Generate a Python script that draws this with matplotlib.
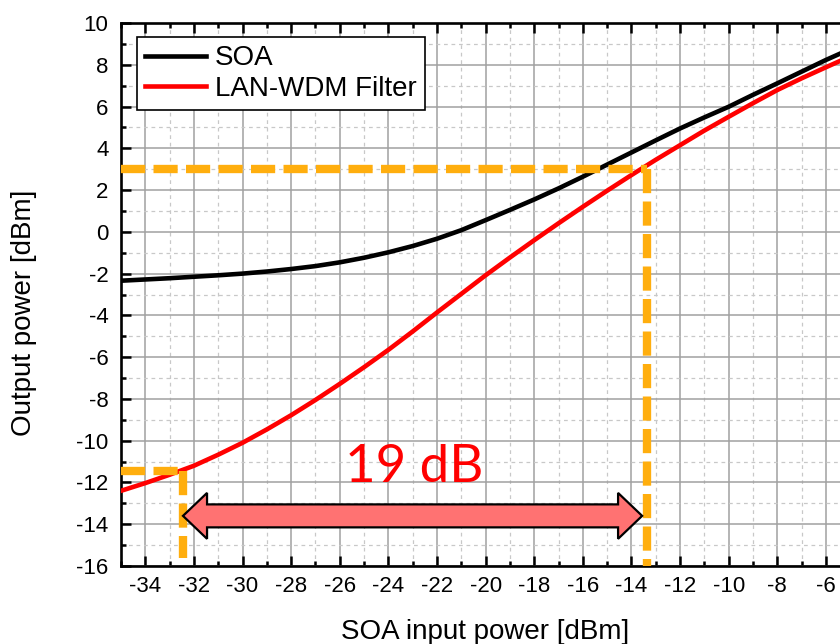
import matplotlib
matplotlib.use("Agg")
import matplotlib.pyplot as plt
from matplotlib.patches import Polygon
from matplotlib.ticker import MultipleLocator

plt.rcParams['font.family'] = ['Liberation Sans', 'DejaVu Sans']
plt.rcParams['axes.unicode_minus'] = False

# ---------------- data ----------------
input_power = [-35, -34, -33, -32, -31, -30, -29, -28, -27, -26, -25, -24, -23, -22, -21,
               -20, -19, -18, -17, -16, -15, -14, -13, -12, -11, -10, -9, -8, -7, -6, -5]
soa_out = [-2.34, -2.28, -2.22, -2.15, -2.08, -2.00, -1.90, -1.78, -1.64, -1.46, -1.24,
           -0.98, -0.68, -0.33, 0.08, 0.56, 1.05, 1.55, 2.08, 2.64, 3.22, 3.80, 4.38,
           4.95, 5.48, 5.99, 6.56, 7.11, 7.67, 8.23, 8.75]
filter_out = [-12.40, -12.03, -11.63, -11.20, -10.67, -10.10, -9.46, -8.78, -8.05, -7.28,
              -6.48, -5.65, -4.77, -3.86, -2.97, -2.08, -1.23, -0.40, 0.41, 1.20, 1.97,
              2.72, 3.45, 4.15, 4.85, 5.51, 6.16, 6.79, 7.35, 7.88, 8.40]
series_labels = ["SOA", "LAN-WDM Filter"]

# guide lines (annotation values)
high_in, high_out = -13.35, 3.0
low_in, low_out, low_end = -32.45, -11.45, -15.6
arrow_left, arrow_right, arrow_y = -32.45, -13.56, -13.6
range_text = "19 dB"

# ---------------- figure ----------------
fig = plt.figure(figsize=(8.4, 6.44), dpi=100)
ax = fig.add_axes([121 / 840, 78 / 644, 719 / 840, 543 / 644])

xmin, xmax = -35, -5.42
ymin, ymax = -16, 10
ax.set_xlim(xmin, xmax)
ax.set_ylim(ymin, ymax)

ax.xaxis.set_major_locator(MultipleLocator(2))
ax.xaxis.set_minor_locator(MultipleLocator(1))
ax.yaxis.set_major_locator(MultipleLocator(2))
ax.yaxis.set_minor_locator(MultipleLocator(1))

ax.grid(which='major', color='#a0a0a0', linestyle='-', linewidth=1.1, zorder=0)
ax.grid(which='minor', color='#c8c8c8', linestyle=(0, (3, 3)), linewidth=0.9, zorder=0)
ax.set_axisbelow(True)

ax.tick_params(which='both', direction='in', top=True, right=False, width=1.8)
ax.tick_params(which='major', length=7, labelsize=16)
ax.tick_params(which='minor', length=3.8)
ax.tick_params(axis='x', which='major', pad=7.5)
ax.tick_params(axis='y', which='major', pad=9)

for side in ['left', 'bottom', 'top']:
    ax.spines[side].set_linewidth(1.9)
ax.spines['right'].set_visible(False)

# curves
ax.plot(input_power, soa_out, color='black', lw=3.3, label=series_labels[0], zorder=3)
ax.plot(input_power, filter_out, color='#ff0000', lw=3.3, label=series_labels[1], zorder=3)

# orange guides
orange = '#FFAE0E'
dash = (0, (2.9, 1.0))
ax.plot([xmin, high_in], [high_out, high_out], color=orange, lw=6, linestyle=dash, zorder=4)
ax.plot([high_in, high_in], [high_out, ymin], color=orange, lw=6, linestyle=dash, zorder=4)
ax.plot([xmin, low_in], [low_out, low_out], color=orange, lw=6, linestyle=dash, zorder=4)
ax.plot([low_in, low_in], [low_out, low_end], color=orange, lw=6, linestyle=dash, zorder=4)

# double arrow
body_h = 0.55
head_h = 1.1
head_l = 0.99
pts = [
    (arrow_left, arrow_y),
    (arrow_left + head_l, arrow_y + head_h),
    (arrow_left + head_l, arrow_y + body_h),
    (arrow_right - head_l, arrow_y + body_h),
    (arrow_right - head_l, arrow_y + head_h),
    (arrow_right, arrow_y),
    (arrow_right - head_l, arrow_y - head_h),
    (arrow_right - head_l, arrow_y - body_h),
    (arrow_left + head_l, arrow_y - body_h),
    (arrow_left + head_l, arrow_y - head_h),
]
ax.add_patch(Polygon(pts, closed=True, facecolor='#FF7272', edgecolor='black',
                     lw=1.6, joinstyle='miter', zorder=5))

ax.text(-22.93, -11.96, range_text, color='#ff0000', fontsize=38,
        family=['Lato', 'DejaVu Sans'], ha='center', va='baseline', zorder=6)

ax.set_xlabel("SOA input power [dBm]", fontsize=20)
ax.set_ylabel("Output power [dBm]", fontsize=20)
ax.xaxis.set_label_coords((485 - 121) / 719, -0.097)
ax.yaxis.set_label_coords((37 - 121) / 719, (566 - 313) / 543)

leg = ax.legend(loc='upper left', bbox_to_anchor=(16 / 719, 1 - 14 / 543),
                fontsize=20, frameon=True, fancybox=False, edgecolor='black',
                framealpha=1, handlelength=2.2, handletextpad=0.3,
                labelspacing=0.15, borderpad=0.3, borderaxespad=0)
leg.get_frame().set_linewidth(1.2)

fig.savefig("out.png", dpi=100)
